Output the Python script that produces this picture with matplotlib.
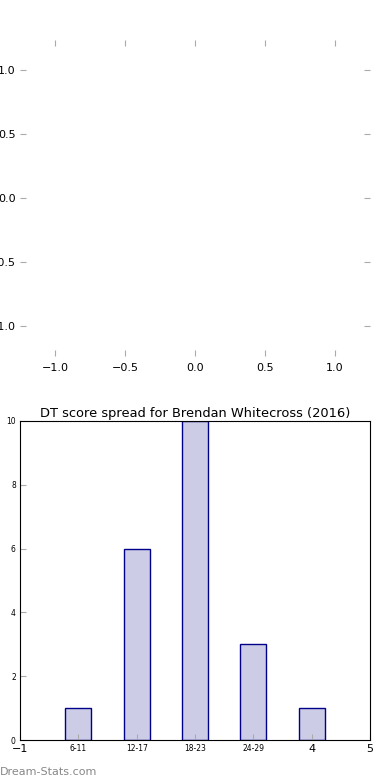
import matplotlib
matplotlib.use("Agg")
import matplotlib.pyplot as plt

categories = ["6-11", "12-17", "18-23", "24-29", "30-35"]
counts = [1, 6, 10, 3, 1]
positions = [0, 1, 2, 3, 4]
xtick_pos = [-1, 0, 1, 2, 3, 4, 5]
xtick_labels = ["\u22121", "6-11", "12-17", "18-23", "24-29", "4", "5"]
title = "DT score spread for Brendan Whitecross (2016)"

fig = plt.figure(figsize=(3.9, 7.8), dpi=100)

# top empty axes
ax1 = fig.add_axes([20/390, 1 - 356/780, 350/390, 316/780])
ax1.set_xlim(-1.25, 1.25)
ax1.set_ylim(-1.23, 1.23)
ax1.set_xticks([-1.0, -0.5, 0.0, 0.5, 1.0])
ax1.set_yticks([-1.0, -0.5, 0.0, 0.5, 1.0])
for s in ax1.spines.values():
    s.set_visible(False)
ax1.tick_params(direction="in", top=True, right=True, color="#aaaaaa",
                length=4, labelsize=8)
ax1.tick_params(axis="x", pad=5)
ax1.tick_params(axis="y", pad=3)

# bottom bar chart
ax2 = fig.add_axes([20/390, 1 - 740/780, 350/390, 319/780])
ax2.bar(positions, counts, width=0.45, color="#ccccE6", edgecolor="#00008B",
        linewidth=1)
ax2.set_xlim(-1, 5)
ax2.set_ylim(0, 10)
ax2.set_xticks(xtick_pos)
ax2.set_xticklabels(xtick_labels)
for i, lab in enumerate(ax2.get_xticklabels()):
    if i in (0, 5, 6):
        lab.set_fontsize(8)
    else:
        lab.set_fontsize(5.5)
ax2.set_yticks([0, 2, 4, 6, 8, 10])
ax2.tick_params(axis="y", labelsize=5.5)
ax2.tick_params(direction="in", color="#aaaaaa", length=4, pad=3)
ax2.tick_params(top=False, right=False)
for s in ax2.spines.values():
    s.set_color("black")
ax2.set_title(title, fontsize=9.4, pad=3)

fig.text(0.0, 0.0 + 3/780, "Dream-Stats.com", fontsize=8, color="#888888",
         ha="left", va="bottom")

fig.savefig("out.png", dpi=100)
